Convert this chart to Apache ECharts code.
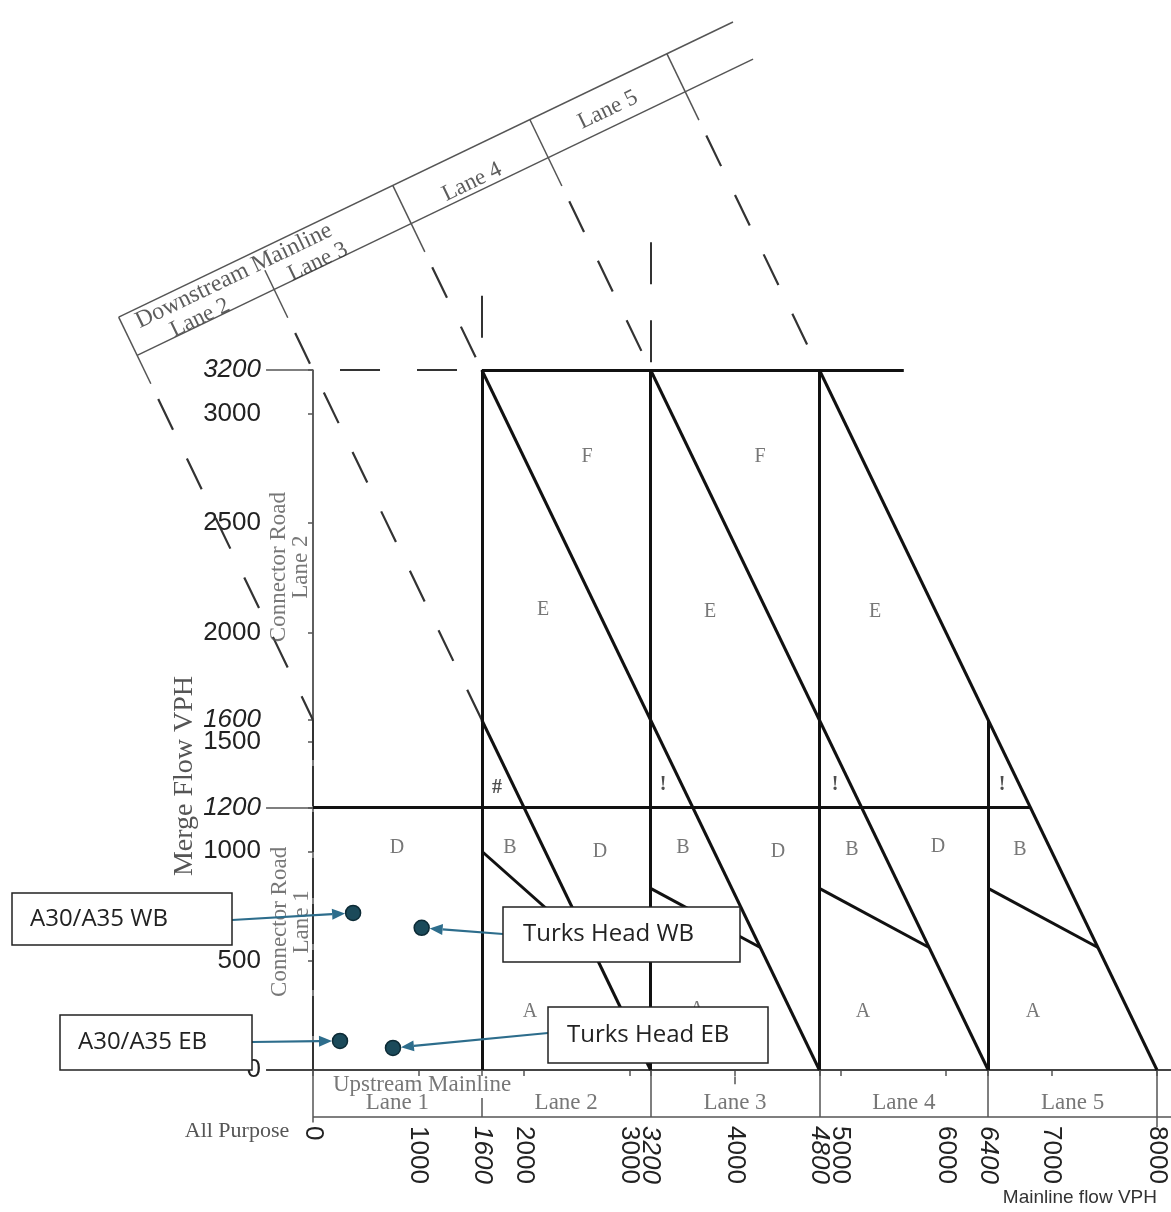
<!DOCTYPE html>
<html>
<head>
<meta charset="utf-8">
<script src="https://cdn.jsdelivr.net/npm/echarts@6/dist/echarts.min.js"></script>
<style>
  html, body { margin: 0; padding: 0; background: #fff; }
  #chart { width: 1171px; height: 1212px; }
</style>
</head>
<body>
<div id="chart"></div>
<script>
// Merge LOS chart: mainline flow vs merge (connector) flow, vph
const xTickValues = [0, 1000, 1600, 2000, 3000, 3200, 4000, 4800, 5000, 6000, 6400, 7000, 8000];
const yTickValues = [0, 500, 1000, 1200, 1500, 1600, 2000, 2500, 3000, 3200];
const italicValues = [1200, 1600, 3200, 4800, 6400];

const upstreamLanes = ["Lane 1", "Lane 2", "Lane 3", "Lane 4", "Lane 5"];
const upstreamLaneMid = [800, 2400, 4000, 5600, 7200];

// LOS boundaries (solid heavy lines)
const losLines = [
  [[1600, 0], [1600, 3200]],
  [[3200, 0], [3200, 3200]],
  [[4800, 0], [4800, 3200]],
  [[6400, 0], [6400, 1600]],
  [[1600, 3200], [5600, 3200]],
  [[0, 1200], [6800, 1200]],
  [[1600, 3200], [4800, 0]],
  [[3200, 3200], [6400, 0]],
  [[4800, 3200], [8000, 0]],
  [[1600, 1600], [3200, 0]],
  [[1600, 1000], [2650, 550]],
  [[3200, 830], [4240, 560]],
  [[4800, 830], [5840, 560]],
  [[6400, 830], [7440, 560]],
];

// thin frame: connector box, upstream mainline box
const frameLines = [
  [[-445, 3200], [0, 3200]],
  [[0, 3200], [0, 1600]],
  [[-445, 1200], [0, 1200]],
  [[0, -215], [8133, -215]],
  [[0, 0], [0, -240]],
  [[1600, -128], [1600, -215]],
  [[3200, 0], [3200, -215]],
  [[4800, 0], [4800, -215]],
  [[6400, 0], [6400, -215]],
  [[8000, 0], [8000, -260]],
  [[4000, -30], [4000, -65]],
];
const baseLine = [[[-445, 0], [8133, 0]]];
const connectorDashed = [[[0, 1600], [0, 0]]];

// downstream mainline box (lines run along x + y = const)
const downstreamFrame = [
  [[-1842, 3442], [3981, 4791]],
  [[-1667, 3267], [4171, 4621]],
  [[-1842, 3442], [-1537, 3137]],
  [[-456, 3656], [-239, 3439]],
  [[756, 4044], [1060, 3740]],
  [[2055, 4345], [2359, 4041]],
  [[3354, 4646], [3658, 4342]],
];
const downstreamGuides = [
  [[-1467, 3067], [0, 1600]],
  [[-169, 3369], [1600, 1600]],
  [[1130, 3670], [1600, 3200]],
  [[2429, 3971], [3200, 3200]],
  [[3728, 4272], [4800, 3200]],
];
const capacityGuides = [
  [[256, 3200], [1600, 3200]],
];
const verticalGuides = [
  [[1600, 3540], [1600, 3200]],
  [[3200, 3784], [3200, 3200]],
];
const downstreamLabels = ["Downstream Mainline", "Lane 2", "Lane 3", "Lane 4", "Lane 5"];
const downstreamLabelX = [-749, -1071, 47, 1507, 2796];
const downstreamLabelY = [3630, 3438, 3694, 4059, 4389];

const connectorLabels = ["Connector Road\nLane 2", "Connector Road\nLane 1"];
const connectorLabelX = [-218, -209];
const connectorLabelY = [2299, 677];

// LOS letters
const losLabels = ["F", "F", "E", "E", "E", "D", "D", "D", "D", "B", "B", "B", "B", "A", "A", "A", "A"];
const losLabelX = [2597, 4237, 2180, 3763, 5327, 796, 2720, 4408, 5924, 1867, 3507, 5109, 6701, 2057, 3640, 5213, 6825];
const losLabelY = [2802, 2802, 2103, 2094, 2094, 1015, 997, 997, 1019, 1015, 1015, 1006, 1006, 265, 274, 265, 265];
const flagLabels = ["#", "!", "!", "!"];
const flagX = [1744, 3318, 4948, 6531];
const flagY = [1289, 1303, 1303, 1303];

// observed sites
const siteNames = ["A30/A35 WB", "Turks Head WB", "A30/A35 EB", "Turks Head EB"];
const mainlineFlow = [380, 1030, 256, 758];
const mergeFlow = [718, 650, 133, 101];

(function () {
  const chart = echarts.init(document.getElementById("chart"), null, { renderer: "canvas" });
  const SERIF = "'Liberation Serif', 'DejaVu Serif', serif";
  const SANS = "'Liberation Sans', Arial, sans-serif";
  const BOXFONT = "'Open Sans', 'Liberation Sans', sans-serif";

  function segs(list, style, z) {
    return {
      type: "lines",
      coordinateSystem: "cartesian2d",
      polyline: false,
      clip: false,
      silent: true,
      z: z || 3,
      lineStyle: Object.assign({ opacity: 1, curveness: 0 }, style),
      data: list.map((c) => ({ coords: c })),
    };
  }

  function textSeries(names, xs, ys, label) {
    return {
      type: "scatter",
      clip: false,
      silent: true,
      symbolSize: 1,
      itemStyle: { color: "rgba(0,0,0,0)" },
      z: 4,
      label: Object.assign({ show: true, position: "inside", formatter: "{b}" }, label),
      data: names.map((n, i) => ({ name: n, value: [xs[i], ys[i]] })),
    };
  }

  const tickFmt = (v) => (italicValues.includes(v) ? "{i|" + v + "}" : String(v));

  chart.setOption({
    animation: false,
    backgroundColor: "#fff",
    grid: { left: 313, top: 370, width: 844, height: 700, containLabel: false, outerBoundsMode: "none" },
    xAxis: {
      type: "value",
      min: 0,
      max: 8000,
      offset: 47,
      axisLine: { show: false },
      splitLine: { show: false },
      axisTick: { show: true, customValues: xTickValues, length: 6, lineStyle: { color: "#555", width: 1.5 } },
      axisLabel: {
        customValues: xTickValues,
        rotate: -90,
        margin: 9,
        fontFamily: SANS,
        fontSize: 26,
        color: "#222",
        formatter: tickFmt,
        rich: { i: { fontStyle: "italic", fontFamily: SANS, fontSize: 26, color: "#222" } },
      },
    },
    yAxis: {
      type: "value",
      min: 0,
      max: 3200,
      offset: 47,
      axisLine: { show: true, lineStyle: { color: "#555", width: 1.5 } },
      splitLine: { show: false },
      axisTick: { show: true, customValues: yTickValues, length: 5, lineStyle: { color: "#555", width: 1.5 } },
      axisLabel: {
        customValues: yTickValues,
        margin: 5,
        fontFamily: SANS,
        fontSize: 26,
        color: "#222",
        formatter: tickFmt,
        rich: { i: { fontStyle: "italic", fontFamily: SANS, fontSize: 26, color: "#222" } },
      },
    },
    series: [
      segs(frameLines, { color: "#555", width: 1.5 }),
      segs(baseLine, { color: "#444", width: 2 }),
      segs(connectorDashed, { color: "#333", width: 2, type: [40, 6] }),
      segs(downstreamFrame, { color: "#555", width: 1.5 }),
      segs(downstreamGuides, { color: "#333", width: 2.2, type: [34, 32] }),
      segs(capacityGuides, { color: "#333", width: 2.2, type: [40, 37] }),
      segs(verticalGuides, { color: "#333", width: 2, type: [42, 36] }),
      segs(losLines, { color: "#111", width: 3 }, 5),
      textSeries(downstreamLabels.slice(0, 1), downstreamLabelX.slice(0, 1), downstreamLabelY.slice(0, 1), {
        rotate: 25.7, fontFamily: SERIF, fontSize: 24, color: "#333",
      }),
      textSeries(downstreamLabels.slice(1), downstreamLabelX.slice(1), downstreamLabelY.slice(1), {
        rotate: 25.7, fontFamily: SERIF, fontSize: 23, color: "#333",
      }),
      textSeries(connectorLabels, connectorLabelX, connectorLabelY, {
        rotate: 90, fontFamily: SERIF, fontSize: 23, lineHeight: 22, color: "#555", align: "center",
      }),
      textSeries(upstreamLanes, upstreamLaneMid, upstreamLanes.map(() => -151), {
        fontFamily: SERIF, fontSize: 23, color: "#555",
      }),
      textSeries(["Upstream Mainline"], [1033], [-69], {
        fontFamily: SERIF, fontSize: 23, color: "#555",
      }),
      textSeries(losLabels, losLabelX, losLabelY, {
        fontFamily: SERIF, fontSize: 20, color: "#555",
      }),
      textSeries(flagLabels, flagX, flagY, {
        fontFamily: SERIF, fontSize: 20, fontWeight: "bold", color: "#222",
      }),
      {
        type: "scatter",
        clip: false,
        silent: true,
        z: 6,
        symbol: "circle",
        symbolSize: 15,
        itemStyle: { color: "#1b4a5a", borderColor: "#0d2b36", borderWidth: 1.5, opacity: 1 },
        data: siteNames.map((n, i) => ({ name: n, value: [mainlineFlow[i], mergeFlow[i]] })),
      },
    ],
  });

  // annotation boxes and arrows, laid out in pixels
  const boxes = [
    { x: 12, y: 893, w: 220, h: 52, tx: 30, from: [232, 920] },
    { x: 503, y: 907, w: 237, h: 55, tx: 523, from: [503, 934] },
    { x: 60, y: 1015, w: 192, h: 55, tx: 78, from: [252, 1042] },
    { x: 548, y: 1007, w: 220, h: 56, tx: 567, from: [548, 1033] },
  ];
  const arrowColor = "#2d6d8c";
  const graphics = [];

  graphics.push({
    type: "text", x: 185, y: 776, rotation: Math.PI / 2, z: 100, silent: true,
    style: { text: "Merge Flow VPH", x: 0, y: 0, fill: "#555", font: "28px " + SERIF,
      align: "center", textAlign: "center", verticalAlign: "middle", textVerticalAlign: "middle" },
  });
  graphics.push({
    type: "text", x: 237, y: 1131, z: 100, silent: true,
    style: { text: "All Purpose", x: 0, y: 0, fill: "#555", font: "22px " + SERIF,
      align: "center", textAlign: "center", verticalAlign: "middle", textVerticalAlign: "middle" },
  });
  graphics.push({
    type: "text", x: 1157, y: 1198, z: 100, silent: true,
    style: { text: "Mainline flow VPH", x: 0, y: 0, fill: "#333", font: "19px " + SANS,
      align: "right", textAlign: "right", verticalAlign: "middle", textVerticalAlign: "middle" },
  });

  siteNames.forEach((name, i) => {
    const b = boxes[i];
    const p = chart.convertToPixel({ gridIndex: 0 }, [mainlineFlow[i], mergeFlow[i]]);
    const a = b.from;
    const dx = p[0] - a[0], dy = p[1] - a[1];
    const len = Math.sqrt(dx * dx + dy * dy);
    const ux = dx / len, uy = dy / len;
    const tip = [p[0] - ux * 8, p[1] - uy * 8];
    const base = [tip[0] - ux * 13, tip[1] - uy * 13];
    const nx = -uy, ny = ux;
    graphics.push({
      type: "line", z: 100, silent: true,
      shape: { x1: a[0], y1: a[1], x2: base[0], y2: base[1] },
      style: { stroke: arrowColor, lineWidth: 2.2 },
    });
    graphics.push({
      type: "polygon", z: 100, silent: true,
      shape: { points: [tip, [base[0] + nx * 5.5, base[1] + ny * 5.5], [base[0] - nx * 5.5, base[1] - ny * 5.5]] },
      style: { fill: arrowColor },
    });
    graphics.push({
      type: "rect", z: 101, silent: true,
      shape: { x: b.x, y: b.y, width: b.w, height: b.h },
      style: { fill: "#fff", stroke: "#222", lineWidth: 1.5 },
    });
    graphics.push({
      type: "text", z: 102, silent: true, x: b.tx, y: b.y + b.h / 2,
      style: { text: name, x: 0, y: 0, fill: "#222", font: "24px " + BOXFONT,
        align: "left", textAlign: "left", verticalAlign: "middle", textVerticalAlign: "middle" },
    });
  });

  chart.setOption({ graphic: graphics });
  window.addEventListener("resize", () => chart.resize());
})();
</script>
</body>
</html>
